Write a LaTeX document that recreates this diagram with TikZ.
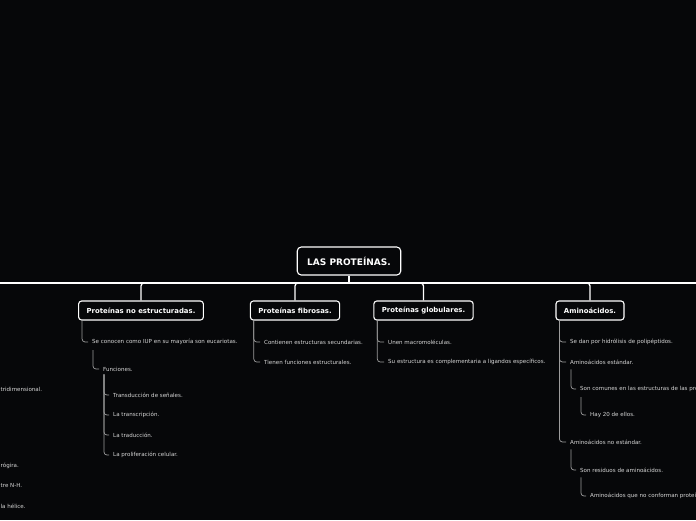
\documentclass[tikz,border=0pt]{standalone}
\usepackage{fontspec}
\setmainfont{DejaVu Sans}
\usepackage{tikz}
\usetikzlibrary{positioning}
\usepackage{xcolor}

\definecolor{bgdark}{HTML}{060709}
\definecolor{leaftext}{HTML}{D6D6D6}
\definecolor{leafline}{HTML}{9C9C9C}

\tikzset{
  topic/.style={draw=white, fill=bgdark, line width=1.1pt, rounded corners=3pt,
    text=white, font=\bfseries\fontsize{6.9}{8}\selectfont,
    minimum height=19pt, inner xsep=8pt},
  roottopic/.style={topic, font=\bfseries\fontsize{9}{10}\selectfont,
    minimum height=28pt, inner xsep=10pt, rounded corners=4pt},
  leaf/.style={anchor=west, inner sep=0pt, text=leaftext,
    font=\fontsize{5.55}{6.5}\selectfont},
  link/.style={draw=leafline, line width=0.7pt, rounded corners=3pt},
  bus/.style={draw=white, line width=1.3pt, rounded corners=3pt}
}

\begin{document}
\begin{tikzpicture}[x=1pt, y=-1pt]
    \useasboundingbox (0,0) rectangle (696,520);
    \clip (0,0) rectangle (696,520);
    \fill[bgdark] (0,0) rectangle (696,520);

    % Central topic and main branches
    \node[roottopic] (root) at (349,261) {LAS PROTEÍNAS.};
    \node[topic] (nonest) at (141,310.5) {Proteínas no estructuradas.};
    \node[topic] (fibro) at (295,310.5) {Proteínas fibrosas.};
    \node[topic] (globu) at (423.5,310.5) {Proteínas globulares.};
    \node[topic] (amino) at (590,310.5) {Aminoácidos.};
    \coordinate (offleft) at (-30,283);
    \coordinate (offright) at (730,283);

    \draw[white, line width=2pt] (root.south) -- (root.south |- offleft);
    \draw[bus] (root.south |- offleft) -- (offleft);
    \draw[bus] (root.south |- offleft) -- (offright);
    \foreach \t in {nonest,fibro,globu,amino} {
        \draw[bus] (root.south |- offleft) -| (\t.north);
    }

    % Proteinas no estructuradas
    \node[leaf] (iup) at (92,342) {Se conocen como IUP en su mayoría son eucariotas.};
    \node[leaf] (func) at (103,369) {Funciones.};
    \node[leaf] (fun1) at (113,395) {Transducción de señales.};
    \node[leaf] (fun2) at (113,415) {La transcripción.};
    \node[leaf] (fun3) at (113,435) {La traducción.};
    \node[leaf] (fun4) at (113,455) {La proliferación celular.};
    \draw[link] ([xshift=4pt]nonest.south west) |- ([xshift=-4pt]iup.west);
    \draw[link] ([xshift=1pt,yshift=-5pt]iup.south west) |- ([xshift=-4pt]func.west);
    \foreach \f in {fun1,fun2,fun3,fun4} {
        \draw[link] ([xshift=1pt,yshift=-3pt]func.south west) |- ([xshift=-4pt]\f.west);
    }

    % Proteinas fibrosas
    \node[leaf] (fib1) at (264,342) {Contienen estructuras secundarias.};
    \node[leaf] (fib2) at (264,362) {Tienen funciones estructurales.};
    \foreach \f in {fib1,fib2} {
        \draw[link] ([xshift=4pt]fibro.south west) |- ([xshift=-4pt]\f.west);
    }

    % Proteinas globulares
    \node[leaf] (glo1) at (388,342) {Unen macromoléculas.};
    \node[leaf] (glo2) at (388,362) {Su estructura es complementaria a ligandos específicos.};
    \foreach \f in {glo1,glo2} {
        \draw[link] ([xshift=4pt]globu.south west) |- ([xshift=-4pt]\f.west);
    }

    % Aminoacidos
    \node[leaf] (ami1) at (570,342) {Se dan por hidrólisis de polipéptidos.};
    \node[leaf] (std) at (570,362) {Aminoácidos estándar.};
    \node[leaf] (std1) at (580,389) {Son comunes en las estructuras de las proteínas.};
    \node[leaf] (std2) at (590,415) {Hay 20 de ellos.};
    \node[leaf] (nstd) at (570,442) {Aminoácidos no estándar.};
    \node[leaf] (nstd1) at (580,470) {Son residuos de aminoácidos.};
    \node[leaf] (nstd2) at (590,496) {Aminoácidos que no conforman proteínas.};
    \foreach \f in {ami1,std,nstd} {
        \draw[link] ([xshift=4pt]amino.south west) |- ([xshift=-4pt]\f.west);
    }
    \draw[link] ([xshift=1pt,yshift=-5pt]std.south west) |- ([xshift=-4pt]std1.west);
    \draw[link] ([xshift=1pt,yshift=-5pt]std1.south west) |- ([xshift=-4pt]std2.west);
    \draw[link] ([xshift=1pt,yshift=-5pt]nstd.south west) |- ([xshift=-4pt]nstd1.west);
    \draw[link] ([xshift=1pt,yshift=-5pt]nstd1.south west) |- ([xshift=-4pt]nstd2.west);

    % Cut-off texts from the branch on the left
    \node[leaf] (left1) at (0.5,389) {tridimensional.};
    \node[leaf] (left2) at (0.5,466) {rógira.};
    \node[leaf] (left3) at (0.5,486) {tre N-H.};
    \node[leaf] (left4) at (0.5,506) {la hélice.};
\end{tikzpicture}
\end{document}
